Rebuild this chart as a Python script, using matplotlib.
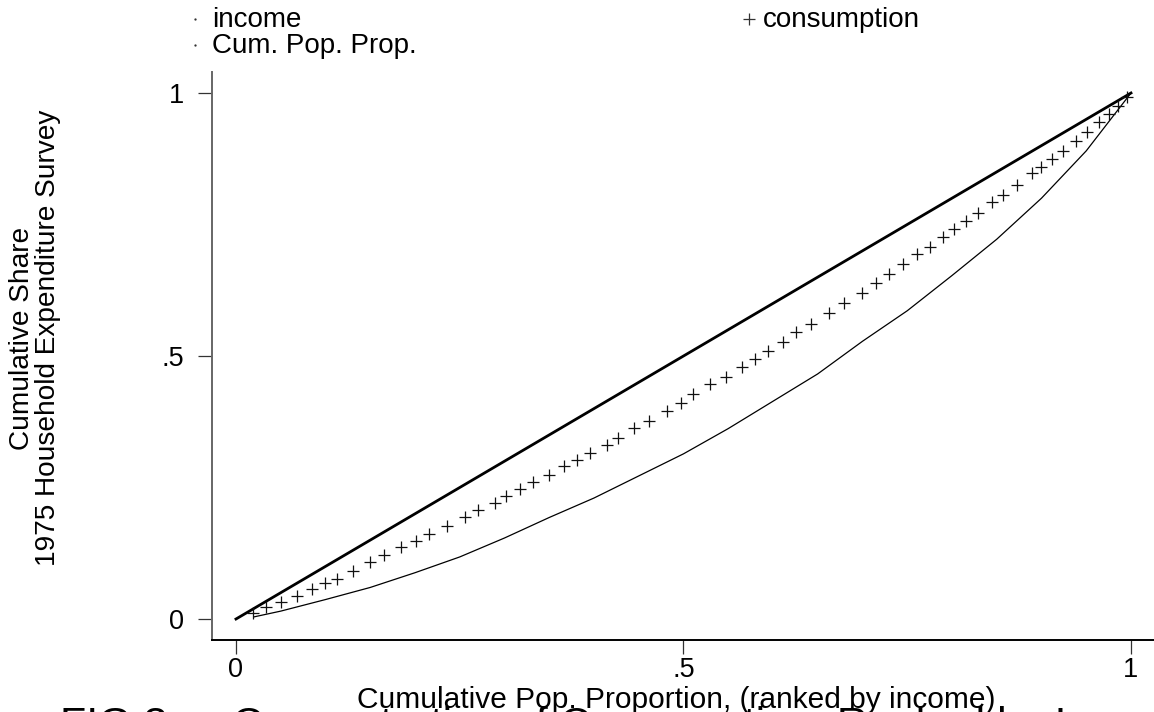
import matplotlib
matplotlib.use("Agg")
import matplotlib.pyplot as plt
from matplotlib.lines import Line2D

plt.rcParams['font.family'] = ['Liberation Sans', 'DejaVu Sans']

# cumulative population share, ranked by income (positions of the consumption points)
pop_share = [0.019, 0.034, 0.050, 0.068, 0.085, 0.099, 0.113, 0.131, 0.150, 0.165,
             0.184, 0.201, 0.216, 0.236, 0.256, 0.270, 0.289, 0.302, 0.317, 0.332,
             0.350, 0.367, 0.381, 0.395, 0.414, 0.427, 0.445, 0.462, 0.482, 0.497,
             0.511, 0.530, 0.548, 0.565, 0.580, 0.594, 0.611, 0.626, 0.642, 0.663,
             0.679, 0.699, 0.715, 0.730, 0.745, 0.761, 0.775, 0.790, 0.802, 0.816,
             0.829, 0.845, 0.857, 0.873, 0.889, 0.900, 0.912, 0.924, 0.938, 0.951,
             0.964, 0.975, 0.985, 0.996]

# cumulative consumption share
consumption = [0.012, 0.022, 0.033, 0.044, 0.057, 0.068, 0.077, 0.092, 0.108, 0.122,
               0.136, 0.149, 0.161, 0.177, 0.193, 0.207, 0.221, 0.234, 0.247, 0.261,
               0.274, 0.290, 0.302, 0.315, 0.331, 0.344, 0.363, 0.376, 0.396, 0.411,
               0.428, 0.447, 0.461, 0.479, 0.494, 0.510, 0.526, 0.545, 0.561, 0.582,
               0.600, 0.620, 0.639, 0.656, 0.675, 0.694, 0.708, 0.726, 0.741, 0.757,
               0.772, 0.792, 0.807, 0.825, 0.847, 0.860, 0.875, 0.890, 0.909, 0.926,
               0.945, 0.960, 0.975, 0.993]

# cumulative income share
income_x = [0.02, 0.05, 0.10, 0.15, 0.20, 0.25, 0.30, 0.35, 0.40, 0.45, 0.50,
            0.55, 0.60, 0.65, 0.70, 0.75, 0.80, 0.85, 0.90, 0.95, 1.00]
income = [0.004, 0.015, 0.037, 0.060, 0.088, 0.118, 0.154, 0.193, 0.230, 0.272, 0.314,
          0.362, 0.414, 0.466, 0.528, 0.586, 0.653, 0.722, 0.800, 0.890, 1.000]

# 45-degree line: cumulative population proportion
cum_pop = [0.0] + pop_share + [1.0]

W, H = 1154, 712
fig = plt.figure(figsize=(W / 100, H / 100), dpi=100)
ax = fig.add_axes([212 / W, 1 - 640 / H, 1 - 212 / W, (640 - 72) / H])

ax.plot(income_x, income, color='black', lw=0.9)
ax.plot(cum_pop, cum_pop, color='black', lw=2.0)
ax.plot(pop_share, consumption, ls='none', marker='+', color='#111111',
        markersize=8, markeredgewidth=0.9)

ax.set_xlim(-0.0268, 1.0257)
ax.set_ylim(-0.0399, 1.0399)
ax.set_xticks([0, 0.5, 1])
ax.set_xticklabels(['0', '.5', '1'])
ax.set_yticks([0, 0.5, 1])
ax.set_yticklabels(['0', '.5', '1'])

for side in ('top', 'right'):
    ax.spines[side].set_visible(False)
ax.spines['left'].set_color('#666666')
ax.spines['left'].set_linewidth(1.4)
ax.spines['bottom'].set_color('black')
ax.spines['bottom'].set_linewidth(1.4)
ax.tick_params(axis='both', direction='out', length=10, width=0.9,
               color='#333333', labelsize=19.5)
ax.tick_params(axis='y', pad=10)
ax.tick_params(axis='x', pad=2)

# axis titles
fig.text(35 / W, 1 - 338 / H, 'Cumulative Share\n1975 Household Expenditure Survey',
         rotation=90, ha='center', va='center', multialignment='center',
         fontsize=20.2, linespacing=1.0)
fig.text(676 / W, 1 - 708 / H, 'Cumulative Pop. Proportion, (ranked by income)',
         ha='center', va='baseline', fontsize=21.5)

# legend entries along the top
legend_items = [
    (195, 19, 212, 27, '.', 1.5, 'income'),
    (195, 45, 212, 53, '.', 1.5, 'Cum. Pop. Prop.'),
    (749, 19, 763, 27, '+', 8, 'consumption'),
]
for mx, my, tx, ty, mk, ms, label in legend_items:
    fig.add_artist(Line2D([mx / W], [1 - my / H], ls='none', marker=mk,
                          markersize=ms, markeredgewidth=0.9, color='#333333',
                          transform=fig.transFigure))
    fig.text(tx / W, 1 - ty / H, label, ha='left', va='baseline', fontsize=20)

# figure caption, runs off the bottom edge
fig.text(60 / W, 1 - 737 / H, 'FIG 3 --  Concentration of Consumption, Ranked by Income',
         ha='left', va='baseline', fontsize=31)

fig.savefig('out.png', dpi=100)
